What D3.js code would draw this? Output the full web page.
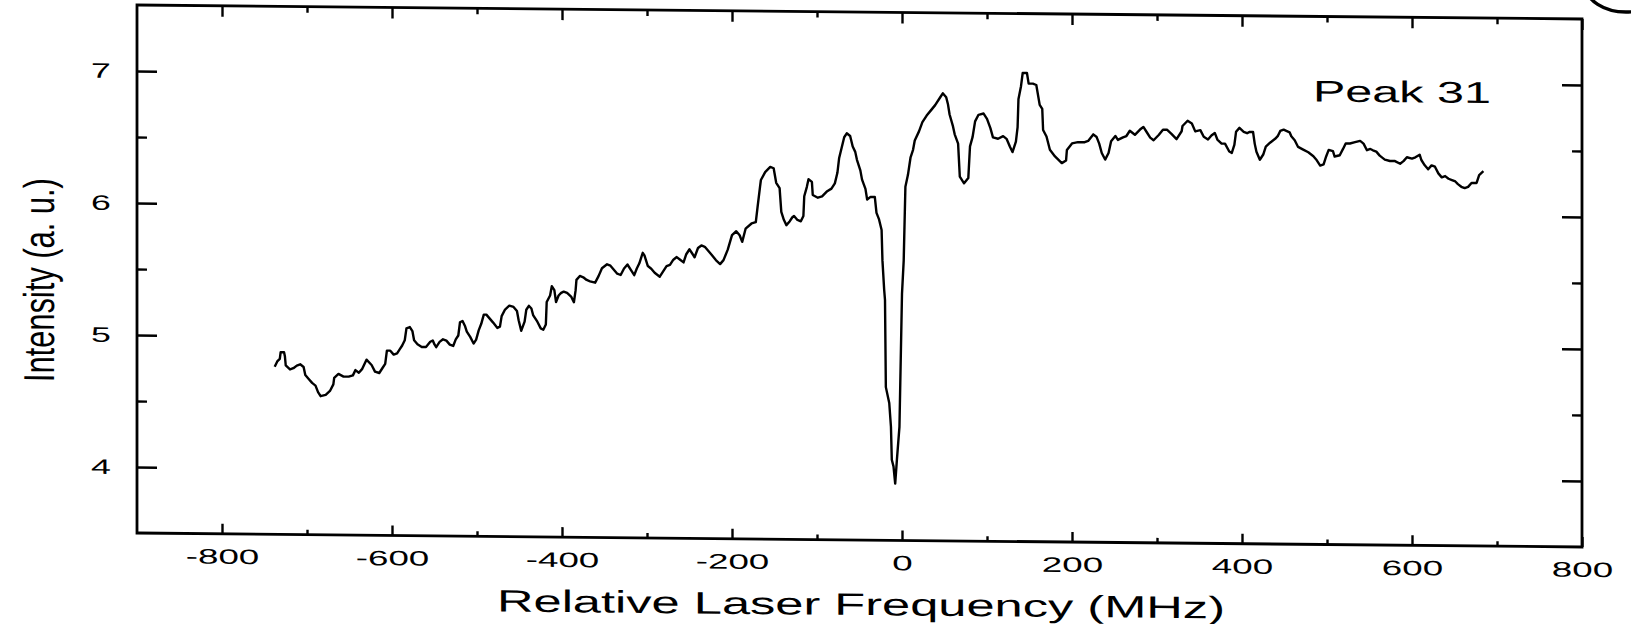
<!DOCTYPE html>
<html lang="en">
<head>
  <meta charset="UTF-8">
  <script src="https://d3js.org/d3.v7.min.js"></script>
  <title>Peak 31</title>
  <style>
    body { margin: 0; background: #fff; }
    text { font-family: "Liberation Sans", Arial, sans-serif; fill: #000; }
  </style>
</head>
<body>
  <script>
    // trace (MHz, a.u.)
    const freq = [
      -738,-735,-732,-731,-727,-726,-725,-720,-716,-712,-708,-704,-702,-698,-694,-690,-687,-684,-678,-673,
      -669,-668,-663,-657,-651,-646,-643,-639,-635,-630,-624,-620,-615,-611,-608,-606,-602,-598,-594,-591,
      -588,-585,-583,-579,-576,-574,-570,-565,-560,-555,-552,-550,-548,-544,-540,-536,-532,-528,-525,-522,
      -520,-517,-514,-512,-508,-504,-501,-498,-495,-492,-489,-485,-481,-476,-473,-471,-467,-462,-457,-453,
      -451,-448,-444,-442,-439,-436,-434,-429,-425,-422,-419,-418,-414,-412,-409,-407,-404,-401,-398,-394,
      -389,-386,-384,-383,-379,-375,-371,-367,-361,-357,-353,-347,-343,-339,-335,-331,-327,-323,-319,-315,
      -312,-309,-305,-303,-299,-295,-291,-285,-281,-277,-273,-269,-265,-261,-257,-254,-250,-247,-244,-240,
      -236,-232,-228,-224,-219,-214,-210,-205,-200,-195,-191,-188,-184,-177,-172,-170,-167,-166,-161,-155,
      -151,-148,-144,-142,-139,-136,-132,-129,-127,-123,-119,-116,-115,-112,-110,-106,-105,-99,-94,-88,
      -83,-79,-76,-74,-71,-68,-65,-61,-58,-55,-53,-49,-47,-43,-41,-37,-32,-30,-27,-24,
      -23,-21,-20,-19,-15,-13,-12,-10,-8,-6,-3,0,2,4,7,10,13,15,20,24,
      29,34,39,45,48,52,54,56,60,62,66,68,73,78,80,83,86,90,96,100,
      104,107,113,119,123,127,130,134,136,137,140,142,147,149,154,158,162,165,166,170,
      174,180,188,193,194,200,207,215,219,225,229,232,235,239,243,246,251,254,260,264,
      268,274,280,284,288,292,296,302,307,312,317,323,329,330,336,341,345,351,355,360,
      364,368,371,376,380,385,388,391,393,397,402,406,409,413,415,417,421,425,428,433,
      439,442,445,449,456,458,462,466,472,478,484,488,492,496,499,502,507,509,515,519,
      522,527,533,539,543,547,551,554,558,562,568,574,580,586,590,594,600,604,609,611,
      615,619,623,627,631,635,639,643,647,651,654,658,662,666,670,676,679,684
    ]
    const intensity = [
      4.77,4.81,4.83,4.88,4.88,4.85,4.78,4.75,4.76,4.78,4.79,4.77,4.71,4.68,4.65,4.63,4.58,4.55,4.56,4.59,
      4.64,4.69,4.72,4.70,4.70,4.71,4.75,4.73,4.76,4.83,4.79,4.74,4.73,4.77,4.80,4.90,4.90,4.87,4.88,4.91,
      4.94,4.98,5.07,5.08,5.05,4.98,4.95,4.93,4.93,4.97,4.98,4.95,4.93,4.97,4.99,4.98,4.95,4.94,4.99,5.02,
      5.12,5.13,5.09,5.05,5.01,4.96,4.99,5.06,5.11,5.18,5.18,5.15,5.12,5.08,5.09,5.17,5.22,5.25,5.24,5.21,
      5.14,5.06,5.13,5.22,5.25,5.23,5.18,5.13,5.08,5.07,5.11,5.28,5.33,5.40,5.37,5.28,5.33,5.35,5.36,5.35,
      5.32,5.28,5.37,5.45,5.48,5.47,5.45,5.44,5.43,5.48,5.54,5.57,5.56,5.53,5.50,5.49,5.54,5.57,5.53,5.49,
      5.54,5.58,5.66,5.64,5.56,5.54,5.51,5.48,5.52,5.56,5.57,5.61,5.63,5.61,5.59,5.65,5.69,5.66,5.63,5.70,
      5.72,5.71,5.68,5.65,5.61,5.58,5.61,5.69,5.80,5.83,5.80,5.75,5.85,5.89,5.90,6.01,6.17,6.22,6.28,6.32,
      6.31,6.20,6.16,5.98,5.92,5.88,5.91,5.94,5.95,5.92,5.91,5.95,6.10,6.17,6.23,6.21,6.11,6.09,6.10,6.14,
      6.16,6.20,6.28,6.39,6.47,6.55,6.58,6.56,6.48,6.44,6.38,6.30,6.23,6.16,6.08,6.10,6.10,5.98,5.93,5.85,
      5.62,5.40,5.32,4.66,4.54,4.36,4.11,4.06,3.93,4.11,4.36,5.37,5.62,6.18,6.27,6.40,6.46,6.53,6.60,6.67,
      6.72,6.76,6.80,6.86,6.89,6.86,6.81,6.73,6.64,6.58,6.51,6.26,6.21,6.25,6.49,6.56,6.68,6.73,6.74,6.70,
      6.63,6.56,6.55,6.57,6.55,6.49,6.45,6.53,6.64,6.85,6.95,7.05,7.05,6.97,6.97,6.96,6.81,6.78,6.62,6.57,
      6.47,6.42,6.37,6.39,6.47,6.52,6.53,6.53,6.54,6.59,6.57,6.52,6.45,6.40,6.45,6.54,6.58,6.55,6.57,6.58,
      6.62,6.59,6.63,6.65,6.61,6.57,6.55,6.59,6.63,6.63,6.60,6.56,6.62,6.66,6.70,6.68,6.62,6.63,6.58,6.56,
      6.59,6.61,6.56,6.53,6.53,6.47,6.46,6.52,6.62,6.65,6.62,6.61,6.62,6.62,6.53,6.47,6.41,6.45,6.51,6.54,
      6.57,6.59,6.63,6.64,6.62,6.59,6.56,6.51,6.49,6.47,6.44,6.41,6.37,6.38,6.44,6.49,6.48,6.44,6.45,6.50,
      6.54,6.54,6.55,6.56,6.54,6.49,6.50,6.49,6.48,6.45,6.42,6.41,6.41,6.39,6.41,6.44,6.43,6.44,6.46,6.42,
      6.38,6.35,6.38,6.37,6.32,6.29,6.30,6.28,6.27,6.26,6.24,6.22,6.21,6.22,6.25,6.25,6.31,6.34
    ]

    const xMajorTicks = [-800, -600, -400, -200, 0, 200, 400, 600, 800]
    const xMinorTicks = [-700, -500, -300, -100, 100, 300, 500, 700]
    const yMajorTicks = [4, 5, 6, 7]
    const yMinorTicks = [4.5, 5.5, 6.5]
    const xTitle = "Relative Laser Frequency (MHz)"
    const yTitle = "Intensity (a. u.)"
    const peakLabel = "Peak 31"

    const dimensions = {
      width: 1631,
      height: 624,
      boundedWidth: 1445,
      boundedHeight: 528,
      margin: { top: 5, left: 137 }
    }
    const bottomY = dimensions.margin.top + dimensions.boundedHeight

    const svg = d3.select("body")
        .append("svg")
        .attr("width", dimensions.width)
        .attr("height", dimensions.height)

    // the scan is slightly sheared: right side sits lower
    const page = svg.append("g")
        .attr("transform", `translate(${dimensions.margin.left},${bottomY}) skewY(0.555) translate(${-dimensions.margin.left},${-bottomY})`)

    const bounds = page.append("g")
        .attr("transform", `translate(${dimensions.margin.left},${dimensions.margin.top})`)

    /* scales */
    const xScale = d3.scaleLinear()
        .domain([-900, 800])
        .range([0, dimensions.boundedWidth])
    const yScale = d3.scaleLinear()
        .domain([3.5, 7.5])
        .range([dimensions.boundedHeight, 0])

    // plain hyphen, like the original typesetting
    const plain = d => String(d)

    // frame
    bounds.append("rect")
        .attr("width", dimensions.boundedWidth)
        .attr("height", dimensions.boundedHeight)
        .attr("fill", "none")
        .attr("stroke", "#000")
        .attr("stroke-width", 2.8)

    function styleAxis(g) {
      g.select(".domain").remove()
      g.selectAll(".tick line").attr("stroke", "#000").attr("stroke-width", 2.4)
      g.attr("font-family", null).attr("font-size", 21)
    }

    // bottom
    bounds.append("g")
        .attr("transform", `translate(0,${dimensions.boundedHeight})`)
        .call(d3.axisBottom(xScale).tickValues(xMajorTicks).tickFormat(plain).tickSize(-10).tickSizeOuter(0).tickPadding(15))
        .call(styleAxis)
        .selectAll("text")
        .attr("transform", "scale(1.75,1)")
    bounds.append("g")
        .attr("transform", `translate(0,${dimensions.boundedHeight})`)
        .call(d3.axisBottom(xScale).tickValues(xMinorTicks).tickSize(-5).tickSizeOuter(0).tickFormat(""))
        .call(styleAxis)

    // top
    bounds.append("g")
        .call(d3.axisTop(xScale).tickValues(xMajorTicks).tickSize(-11).tickSizeOuter(0).tickFormat(""))
        .call(styleAxis)
    bounds.append("g")
        .call(d3.axisTop(xScale).tickValues(xMinorTicks).tickSize(-6).tickSizeOuter(0).tickFormat(""))
        .call(styleAxis)

    // left
    bounds.append("g")
        .call(d3.axisLeft(yScale).tickValues(yMajorTicks).tickFormat(plain).tickSize(-20).tickSizeOuter(0))
        .call(styleAxis)
        .selectAll("text")
        .attr("x", 0)
        .attr("text-anchor", "middle")
        .attr("transform", "translate(-36,0) scale(1.7,1)")
    bounds.append("g")
        .call(d3.axisLeft(yScale).tickValues(yMinorTicks).tickSize(-10).tickSizeOuter(0).tickFormat(""))
        .call(styleAxis)

    // right
    bounds.append("g")
        .attr("transform", `translate(${dimensions.boundedWidth},0)`)
        .call(d3.axisRight(yScale).tickValues(yMajorTicks).tickSize(-20).tickSizeOuter(0).tickFormat(""))
        .call(styleAxis)
    bounds.append("g")
        .attr("transform", `translate(${dimensions.boundedWidth},0)`)
        .call(d3.axisRight(yScale).tickValues(yMinorTicks).tickSize(-10).tickSizeOuter(0).tickFormat(""))
        .call(styleAxis)

    // trace
    const line = d3.line()
        .x(d => xScale(d[0]))
        .y(d => yScale(d[1]))
    bounds.append("path")
        .datum(d3.zip(freq, intensity))
        .attr("d", line)
        .attr("fill", "none")
        .attr("stroke", "#000")
        .attr("stroke-width", 2.4)
        .attr("stroke-linejoin", "round")

    // labels
    page.append("text")
        .attr("x", 861)
        .attr("y", 608)
        .attr("text-anchor", "middle")
        .attr("font-size", 31)
        .attr("textLength", 728)
        .attr("lengthAdjust", "spacingAndGlyphs")
        .text(xTitle)

    page.append("g")
        .attr("transform", "translate(54,281) scale(1.6,1)")
        .append("text")
        .attr("transform", "rotate(-90)")
        .attr("text-anchor", "middle")
        .attr("font-size", 27)
        .attr("textLength", 204)
        .attr("lengthAdjust", "spacingAndGlyphs")
        .text(yTitle)

    page.append("text")
        .attr("x", 1402)
        .attr("y", 90)
        .attr("text-anchor", "middle")
        .attr("font-size", 30)
        .attr("textLength", 178)
        .attr("lengthAdjust", "spacingAndGlyphs")
        .text(peakLabel)

    // hand-drawn circle mark cut by the top-right corner
    svg.append("ellipse")
        .attr("cx", 1626)
        .attr("cy", -14)
        .attr("rx", 40)
        .attr("ry", 26)
        .attr("fill", "none")
        .attr("stroke", "#000")
        .attr("stroke-width", 3.5)
  </script>
</body>
</html>
